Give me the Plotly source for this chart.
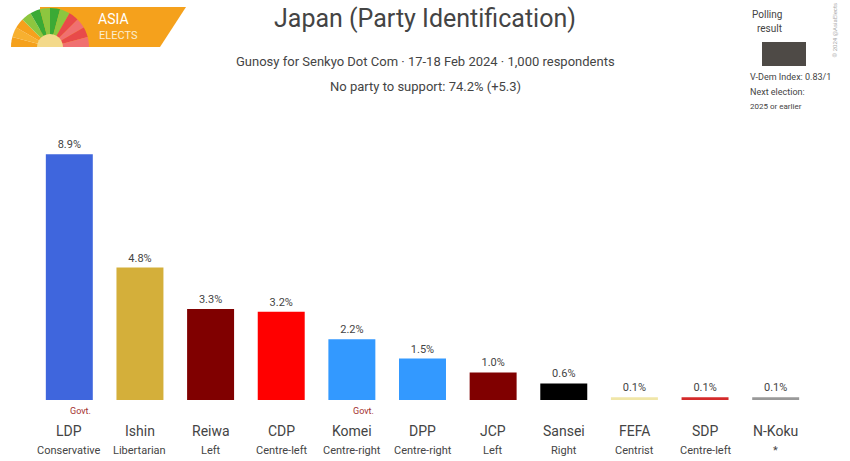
import math
import plotly.graph_objects as go

# Data
parties = ["LDP", "Ishin", "Reiwa", "CDP", "Komei", "DPP", "JCP", "Sansei", "FEFA", "SDP", "N-Koku"]
ideology = ["Conservative", "Libertarian", "Left", "Centre-left", "Centre-right", "Centre-right",
            "Left", "Right", "Centrist", "Centre-left", "*"]
values = [8.9, 4.8, 3.3, 3.2, 2.2, 1.5, 1.0, 0.6, 0.1, 0.1, 0.1]
labels = ["8.9%", "4.8%", "3.3%", "3.2%", "2.2%", "1.5%", "1.0%", "0.6%", "0.1%", "0.1%", "0.1%"]
colors = ["#3f66dd", "#d4af3a", "#800000", "#ff0000", "#3399ff", "#3399ff",
          "#800000", "#000000", "#f0e6a8", "#d42a2a", "#999999"]
govt = ["LDP", "Komei"]

FONT = "Roboto"
TXT = "#444444"

# plot area in pixels
W, H = 850, 461
PL, PR, PT, PB = 34, 39, 120, 61
PW, PH = W - PL - PR, H - PT - PB


def px(x):
    return (x - PL) / PW


def py(y):
    return (H - PB - y) / PH


fig = go.Figure()
fig.add_trace(go.Bar(
    x=parties, y=values, marker_color=colors, marker_line_width=0,
    text=labels, textposition="outside", cliponaxis=False,
    textfont=dict(family=FONT, size=11, color=TXT),
))

# x labels: party name + ideology
for p, ide in zip(parties, ideology):
    fig.add_annotation(x=p, y=py(431), xref="x", yref="paper", text=p, showarrow=False,
                       font=dict(family=FONT, size=14, color=TXT), yanchor="middle")
    fig.add_annotation(x=p, y=py(450), xref="x", yref="paper", text=ide, showarrow=False,
                       font=dict(family=FONT, size=11, color=TXT), yanchor="middle")
for g in govt:
    i = parties.index(g)
    fig.add_annotation(x=i + 0.16, y=py(411), xref="x", yref="paper", text="Govt.", showarrow=False,
                       font=dict(family=FONT, size=9, color="#a33030"), yanchor="middle")

# titles and side texts
ann = [
    dict(x=px(425), y=py(19), text="Japan (Party Identification)",
         font=dict(family=FONT, size=25, color=TXT)),
    dict(x=px(425), y=py(61), text="Gunosy for Senkyo Dot Com · 17-18 Feb 2024 · 1,000 respondents",
         font=dict(family=FONT, size=13, color=TXT)),
    dict(x=px(425), y=py(86), text="No party to support: 74.2% (+5.3)",
         font=dict(family=FONT, size=13, color=TXT)),
    dict(x=px(784), y=py(14), text="Polling", font=dict(family=FONT, size=10, color=TXT)),
    dict(x=px(784), y=py(28), text="result", font=dict(family=FONT, size=10, color=TXT)),
    dict(x=px(748), y=py(77), text="V-Dem Index: 0.83/1", xanchor="left",
         font=dict(family=FONT, size=9, color=TXT)),
    dict(x=px(748), y=py(92), text="Next election:", xanchor="left",
         font=dict(family=FONT, size=9, color=TXT)),
    dict(x=px(748), y=py(107), text="2025 or earlier", xanchor="left",
         font=dict(family=FONT, size=8, color=TXT)),
    dict(x=px(839), y=py(30), text="© 2024 @AsiaElects", textangle=-90,
         font=dict(family=FONT, size=6, color="#aaaaaa")),
    dict(x=px(113), y=py(19), text="ASIA", xanchor="center",
         font=dict(family=FONT, size=14, color="white")),
    dict(x=px(118), y=py(36), text="ELECTS", xanchor="center",
         font=dict(family=FONT, size=11, color="#fbeed0")),
]
for a in ann:
    fig.add_annotation(xref="paper", yref="paper", showarrow=False, yanchor="middle", **a)


# logo shapes
def P(x, y):
    return f"{px(x):.5f},{py(y):.5f}"


shapes = [dict(type="path", xref="paper", yref="paper", fillcolor="#f5a11c", line_width=0,
               path=f"M {P(40,7)} L {P(186,7)} L {P(160,47)} L {P(40,47)} Z")]
cx, cy, r = 50, 47, 39
fan_colors = ["#f5a11c", "#f7b030", "#f5a11c", "#8dc63f", "#3aaa35", "#8dc63f", "#3aaa35",
              "#8dc63f", "#e84a4a", "#f07070", "#e84a4a", "#f07070"]
n = len(fan_colors)
for k, c in enumerate(fan_colors):
    a0 = math.pi - k * math.pi / n
    a1 = math.pi - (k + 1) * math.pi / n
    pts = [P(cx, cy)]
    for t in range(4):
        a = a0 + (a1 - a0) * t / 3
        pts.append(P(cx + r * math.cos(a), cy - r * math.sin(a)))
    shapes.append(dict(type="path", xref="paper", yref="paper", fillcolor=c, line_width=0,
                       path="M " + " L ".join(pts) + " Z"))
hub = [P(cx + 13 * math.cos(math.pi - k * math.pi / 12), cy - 13 * math.sin(math.pi - k * math.pi / 12))
       for k in range(13)]
shapes.append(dict(type="path", xref="paper", yref="paper", fillcolor="#f3d98a", line_width=0,
                   path="M " + " L ".join(hub) + " Z"))
# polling result box
shapes.append(dict(type="rect", xref="paper", yref="paper", fillcolor="#4e4a46", line_width=0,
                   x0=px(762), x1=px(806), y0=py(66), y1=py(42)))

fig.update_layout(
    width=W, height=H,
    margin=dict(l=PL, r=PR, t=PT, b=PB),
    paper_bgcolor="white", plot_bgcolor="white",
    bargap=0.335, showlegend=False, hovermode=False,
    xaxis=dict(showticklabels=False, showgrid=False, zeroline=False, showline=False, ticks=""),
    yaxis=dict(range=[0, PH / 27.6], visible=False),
    shapes=shapes,
)

fig.write_html("out.html", config={"displayModeBar": False},
               post_script="document.body.style.margin='0';")
